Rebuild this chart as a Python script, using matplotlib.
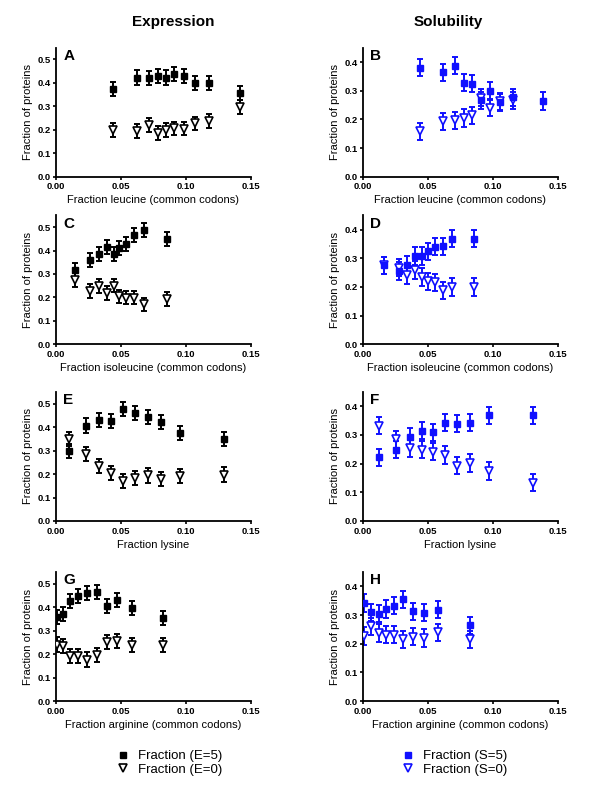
import numpy as np
import matplotlib
matplotlib.use("Agg")
import matplotlib.pyplot as plt
from matplotlib.lines import Line2D

plt.rcParams['font.family'] = ['Liberation Sans', 'DejaVu Sans']

BLUE = '#1010ff'

# ---- data ----
# A: expression vs leucine
a_x5 = [0.0437, 0.0622, 0.0712, 0.0783, 0.0845, 0.0909, 0.0981, 0.1066, 0.1174, 0.1418]
a_y5 = [0.374, 0.422, 0.419, 0.429, 0.423, 0.437, 0.430, 0.400, 0.398, 0.358]
a_e5 = [0.030, 0.031, 0.030, 0.030, 0.030, 0.030, 0.030, 0.030, 0.030, 0.030]
a_x0 = a_x5
a_y0 = [0.199, 0.196, 0.220, 0.185, 0.199, 0.206, 0.205, 0.227, 0.239, 0.298]
a_e0 = [0.030, 0.030, 0.030, 0.030, 0.028, 0.028, 0.028, 0.028, 0.030, 0.030]

# B: solubility vs leucine
b_x5 = [0.0441, 0.0617, 0.0707, 0.0776, 0.0839, 0.0906, 0.0974, 0.1051, 0.1153, 0.1383]
b_y5 = [0.381, 0.364, 0.387, 0.328, 0.324, 0.267, 0.299, 0.259, 0.277, 0.264]
b_e5 = [0.030, 0.030, 0.030, 0.030, 0.030, 0.030, 0.030, 0.030, 0.030, 0.030]
b_x0 = [0.0441, 0.0617, 0.0707, 0.0776, 0.0839, 0.0906, 0.0974, 0.1051, 0.1153]
b_y0 = [0.158, 0.193, 0.197, 0.205, 0.214, 0.276, 0.241, 0.263, 0.267]
b_e0 = [0.030, 0.030, 0.030, 0.030, 0.030, 0.030, 0.030, 0.030, 0.030]

# C: expression vs isoleucine
c_x5 = [0.0149, 0.0265, 0.0334, 0.0390, 0.0444, 0.0488, 0.0539, 0.0601, 0.0678, 0.0853]
c_y5 = [0.316, 0.361, 0.384, 0.415, 0.384, 0.411, 0.429, 0.467, 0.489, 0.450]
c_e5 = [0.030, 0.030, 0.030, 0.030, 0.030, 0.030, 0.030, 0.030, 0.030, 0.030]
c_x0 = c_x5
c_y0 = [0.276, 0.228, 0.249, 0.220, 0.249, 0.205, 0.198, 0.198, 0.170, 0.193]
c_e0 = [0.030, 0.030, 0.030, 0.030, 0.028, 0.028, 0.028, 0.028, 0.028, 0.028]

# D: solubility vs isoleucine
d_x5 = [0.0162, 0.0278, 0.0342, 0.0401, 0.0450, 0.0499, 0.0550, 0.0612, 0.0684, 0.0857]
d_y5 = [0.276, 0.256, 0.278, 0.308, 0.308, 0.325, 0.340, 0.342, 0.369, 0.369]
d_e5 = [0.030, 0.030, 0.030, 0.030, 0.030, 0.030, 0.030, 0.030, 0.030, 0.030]
d_x0 = d_x5
d_y0 = [0.275, 0.267, 0.241, 0.259, 0.235, 0.220, 0.216, 0.189, 0.200, 0.200]
d_e0 = [0.030, 0.030, 0.030, 0.030, 0.030, 0.030, 0.030, 0.030, 0.030, 0.030]

# E: expression vs lysine
e_x5 = [0.0103, 0.0231, 0.0329, 0.0426, 0.0519, 0.0609, 0.0704, 0.0807, 0.0956, 0.1295]
e_y5 = [0.299, 0.407, 0.430, 0.428, 0.479, 0.462, 0.442, 0.421, 0.376, 0.348]
e_e5 = [0.030, 0.030, 0.030, 0.030, 0.030, 0.030, 0.030, 0.030, 0.030, 0.030]
e_x0 = e_x5
e_y0 = [0.348, 0.285, 0.236, 0.205, 0.169, 0.184, 0.194, 0.177, 0.191, 0.198]
e_e0 = [0.030, 0.030, 0.030, 0.030, 0.030, 0.030, 0.030, 0.030, 0.030, 0.030]

# F: solubility vs lysine
f_x5 = [0.0121, 0.0255, 0.0358, 0.0455, 0.0540, 0.0628, 0.0720, 0.0826, 0.0970, 0.1310]
f_y5 = [0.222, 0.248, 0.293, 0.315, 0.310, 0.343, 0.340, 0.343, 0.368, 0.368]
f_e5 = [0.030, 0.030, 0.030, 0.030, 0.030, 0.030, 0.030, 0.030, 0.030, 0.030]
f_x0 = f_x5
f_y0 = [0.333, 0.285, 0.253, 0.248, 0.241, 0.230, 0.193, 0.202, 0.174, 0.133]
f_e0 = [0.030, 0.030, 0.030, 0.030, 0.030, 0.030, 0.030, 0.030, 0.030, 0.030]

# G: expression vs arginine
g_x5 = [0.0005, 0.0051, 0.0110, 0.0172, 0.0239, 0.0313, 0.0390, 0.0473, 0.0583, 0.0822]
g_y5 = [0.358, 0.372, 0.425, 0.448, 0.460, 0.465, 0.405, 0.429, 0.398, 0.354]
g_e5 = [0.030, 0.030, 0.030, 0.030, 0.030, 0.030, 0.030, 0.030, 0.030, 0.030]
g_x0 = g_x5
g_y0 = [0.241, 0.234, 0.193, 0.193, 0.177, 0.198, 0.252, 0.256, 0.238, 0.238]
g_e0 = [0.030, 0.030, 0.030, 0.030, 0.030, 0.030, 0.030, 0.030, 0.030, 0.030]

# H: solubility vs arginine
h_x5 = [0.0008, 0.0059, 0.0120, 0.0179, 0.0242, 0.0311, 0.0385, 0.0472, 0.0579, 0.0821]
h_y5 = [0.342, 0.310, 0.304, 0.321, 0.333, 0.355, 0.313, 0.308, 0.319, 0.264]
h_e5 = [0.030, 0.030, 0.030, 0.030, 0.030, 0.030, 0.030, 0.030, 0.030, 0.030]
h_x0 = h_x5
h_y0 = [0.227, 0.261, 0.237, 0.231, 0.231, 0.215, 0.225, 0.220, 0.240, 0.215]
h_e0 = [0.030, 0.030, 0.030, 0.030, 0.030, 0.030, 0.030, 0.030, 0.030, 0.030]

panels = [
    ('A', a_x5, a_y5, a_e5, a_x0, a_y0, a_e0, 'Fraction leucine (common codons)'),
    ('B', b_x5, b_y5, b_e5, b_x0, b_y0, b_e0, 'Fraction leucine (common codons)'),
    ('C', c_x5, c_y5, c_e5, c_x0, c_y0, c_e0, 'Fraction isoleucine (common codons)'),
    ('D', d_x5, d_y5, d_e5, d_x0, d_y0, d_e0, 'Fraction isoleucine (common codons)'),
    ('E', e_x5, e_y5, e_e5, e_x0, e_y0, e_e0, 'Fraction lysine'),
    ('F', f_x5, f_y5, f_e5, f_x0, f_y0, f_e0, 'Fraction lysine'),
    ('G', g_x5, g_y5, g_e5, g_x0, g_y0, g_e0, 'Fraction arginine (common codons)'),
    ('H', h_x5, h_y5, h_e5, h_x0, h_y0, h_e0, 'Fraction arginine (common codons)'),
]

fig = plt.figure(figsize=(6, 7.89), dpi=100)

lefts = [0.0933, 0.605]
bottoms = [0.776, 0.5636, 0.3397, 0.1115]
w, h = 0.325, 0.1635

for i, (lab, x5, y5, e5, x0, y0, e0, xlab) in enumerate(panels):
    col = i % 2
    row = i // 2
    ax = fig.add_axes([lefts[col], bottoms[row], w, h])
    c = 'black' if col == 0 else BLUE
    eb = dict(fmt='none', ecolor=c, elinewidth=1.4, capsize=2.5, capthick=1.4, zorder=2)
    ax.errorbar(x0, y0, yerr=e0, **eb)
    ax.errorbar(x5, y5, yerr=e5, **eb)
    ax.plot(x0, y0, linestyle='none', marker='v', markersize=5.6, markerfacecolor='white',
            markeredgecolor=c, markeredgewidth=1.2, zorder=3)
    ax.plot(x5, y5, linestyle='none', marker='s', markersize=4.4, color=c, zorder=4)

    ax.set_xlim(0, 0.15)
    ax.set_xticks([0.0, 0.05, 0.10, 0.15])
    ax.set_xticklabels(['0.00', '0.05', '0.10', '0.15'])
    if col == 0:
        ax.set_ylim(0, 0.55)
        yt = [0.0, 0.1, 0.2, 0.3, 0.4, 0.5]
    else:
        ax.set_ylim(0, 0.45)
        yt = [0.0, 0.1, 0.2, 0.3, 0.4]
    ax.set_yticks(yt)
    ax.set_yticklabels(['%.1f' % v for v in yt])
    for s in ['top', 'right']:
        ax.spines[s].set_visible(False)
    for s in ['left', 'bottom']:
        ax.spines[s].set_linewidth(1.3)
    ax.tick_params(direction='out', length=2.5, width=1.2, pad=1.5, labelsize=6.8)
    for t in ax.get_xticklabels() + ax.get_yticklabels():
        t.set_fontweight('bold')
    ax.set_xlabel(xlab, fontsize=8, labelpad=3)
    ax.set_ylabel('Fraction of proteins', fontsize=8, labelpad=3)
    ax.text(0.038, 0.935, lab, transform=ax.transAxes, fontsize=11, fontweight='bold',
            ha='left', va='center')

fig.text(173 / 600, 1 - 22 / 789, 'Expression', ha='center', va='center',
         fontsize=11, fontweight='bold')
fig.text(448 / 600, 1 - 22 / 789, 'Solubility', ha='center', va='center',
         fontsize=11, fontweight='bold')

# legends
for x_leg, c, lab5, lab0 in [(110 / 600, 'black', 'Fraction (E=5)', 'Fraction (E=0)'),
                              (395 / 600, BLUE, 'Fraction (S=5)', 'Fraction (S=0)')]:
    handles = [Line2D([], [], linestyle='none', marker='s', markersize=4.4, color=c),
               Line2D([], [], linestyle='none', marker='v', markersize=5.6,
                      markerfacecolor='white', markeredgecolor=c, markeredgewidth=1.2)]
    fig.legend(handles, [lab5, lab0], loc='center left',
               bbox_to_anchor=(x_leg, 1 - 763 / 789), frameon=False, fontsize=9.5,
               labelspacing=0.1, handlelength=1.0, handletextpad=0.6, borderpad=0)

fig.savefig('out.png', dpi=100)
